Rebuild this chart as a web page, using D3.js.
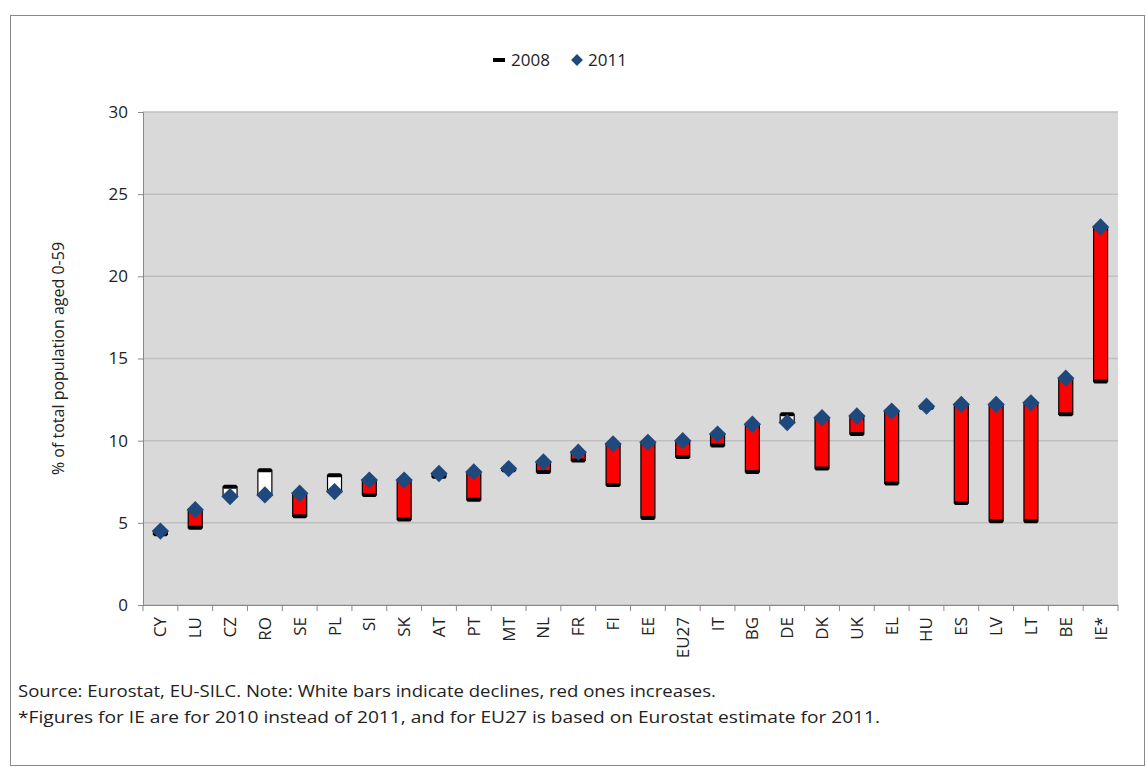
<!DOCTYPE html>
<html><head><meta charset="utf-8">
<script src="https://cdn.jsdelivr.net/npm/d3@7"></script>
<style>body{margin:0;background:#fff;font-family:"Open Sans","DejaVu Sans",sans-serif}</style>
</head><body>
<svg id="chart" width="1146" height="767"></svg>
<script>
var countries = ["CY","LU","CZ","RO","SE","PL","SI","SK","AT","PT","MT","NL","FR","FI","EE","EU27","IT","BG","DE","DK","UK","EL","HU","ES","LV","LT","BE","IE*"];
var values2008 = [4.3,4.7,7.2,8.2,5.4,7.9,6.7,5.2,7.8,6.4,8.2,8.1,8.8,7.3,5.3,9.0,9.7,8.1,11.6,8.3,10.4,7.4,12.0,6.2,5.1,5.1,11.6,13.6];
var values2011 = [4.5,5.8,6.6,6.7,6.8,6.9,7.6,7.6,8.0,8.1,8.3,8.7,9.3,9.8,9.9,10.0,10.4,11.0,11.1,11.4,11.5,11.8,12.1,12.2,12.2,12.3,13.8,23.0];
var yTicks = [0,5,10,15,20,25,30];

var svg = d3.select("#chart");
svg.append("rect").attr("x",10.5).attr("y",15.5).attr("width",1134).attr("height",750)
  .attr("fill","#fff").attr("stroke","#888");

var m = {left:143, right:1118, top:112, bottom:605};
var x = d3.scaleBand().domain(countries).range([m.left,m.right]);
var y = d3.scaleLinear().domain([0,30]).range([m.bottom,m.top]);

svg.append("rect").attr("x",m.left).attr("y",m.top).attr("width",m.right-m.left).attr("height",m.bottom-m.top).attr("fill","#d9d9d9");
svg.selectAll(".grid").data(yTicks).enter().append("line")
  .attr("x1",m.left).attr("x2",m.right).attr("y1",d=>y(d)).attr("y2",d=>y(d))
  .attr("stroke","#bfbfbf").attr("stroke-width",1.5);

var ya = svg.append("g").attr("transform","translate("+m.left+",0)")
  .call(d3.axisLeft(y).tickValues(yTicks).tickSize(5).tickPadding(10));
var xa = svg.append("g").attr("transform","translate(0,"+m.bottom+")")
  .call(d3.axisBottom(x).tickSize(0).tickFormat(""));
[ya,xa].forEach(function(a){a.select(".domain").attr("stroke","#888");a.selectAll("line").attr("stroke","#888");});
ya.selectAll("text").attr("font-size",17).attr("font-family","Open Sans").attr("fill","#222");
svg.selectAll(".xt").data(d3.range(countries.length+1)).enter().append("line")
  .attr("x1",i=>m.left+i*x.step()).attr("x2",i=>m.left+i*x.step())
  .attr("y1",m.bottom).attr("y2",m.bottom+6).attr("stroke","#888");
svg.selectAll(".xl").data(countries).enter().append("text")
  .attr("transform",d=>"translate("+(x(d)+x.bandwidth()/2+6)+","+(m.bottom+12)+") rotate(-90)")
  .attr("text-anchor","end").attr("font-size",17).attr("fill","#222").text(d=>d);

var bw = 14;
var data = countries.map((c,i)=>({c:c,a:values2008[i],b:values2011[i]}));
svg.selectAll(".bar").data(data).enter().append("rect")
  .attr("x",d=>x(d.c)+x.bandwidth()/2-bw/2).attr("width",bw)
  .attr("y",d=>y(Math.max(d.a,d.b))).attr("height",d=>Math.abs(y(d.a)-y(d.b)))
  .attr("fill",d=>d.b>d.a?"#ff0000":"#fff").attr("stroke","#000").attr("stroke-width",1.2);
svg.selectAll(".m08").data(data).enter().append("rect")
  .attr("x",d=>x(d.c)+x.bandwidth()/2-bw/2).attr("width",bw)
  .attr("y",d=>y(d.a)-2).attr("height",4).attr("rx",1.5).attr("fill","#000");
var sq = d3.symbol().type(d3.symbolSquare).size(150);
svg.selectAll(".m11").data(data).enter().append("path")
  .attr("transform",d=>"translate("+(x(d.c)+x.bandwidth()/2)+","+y(d.b)+") rotate(45)")
  .attr("d",sq).attr("fill","#1f497d");

svg.append("text").attr("transform","translate(64,"+((m.top+m.bottom)/2)+") rotate(-90)")
  .attr("text-anchor","middle").attr("font-size",16).attr("fill","#222").text("% of total population aged 0-59");

var lg = svg.append("g").attr("font-size",17).attr("fill","#222");
lg.append("rect").attr("x",493).attr("y",58).attr("width",12).attr("height",4).attr("fill","#000");
lg.append("text").attr("x",511).attr("y",66).text("2008");
lg.append("path").attr("d",d3.symbol().type(d3.symbolSquare).size(70)()).attr("transform","translate(577,60) rotate(45)").attr("fill","#1f497d");
lg.append("text").attr("x",588).attr("y",66).text("2011");

svg.append("text").attr("x",18).attr("y",697).attr("font-size",16).attr("fill","#222")
  .attr("textLength",698).attr("lengthAdjust","spacingAndGlyphs")
  .text("Source: Eurostat, EU-SILC. Note: White bars indicate declines, red ones increases.");
svg.append("text").attr("x",18).attr("y",723).attr("font-size",16).attr("fill","#222")
  .attr("textLength",862).attr("lengthAdjust","spacingAndGlyphs")
  .text("*Figures for IE are for 2010 instead of 2011, and for EU27 is based on Eurostat estimate for 2011.");
</script>
</body></html>
